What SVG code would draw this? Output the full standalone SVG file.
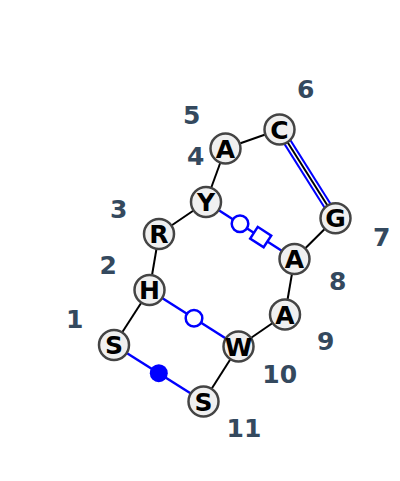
<svg xmlns="http://www.w3.org/2000/svg" width="400" height="481" viewBox="0 0 400 481">
<style>
.bb{stroke:#000;stroke-width:2;fill:none}
.bl{stroke:#0000ff;stroke-width:2.5;fill:none}
.oc{fill:#fff;stroke:#0000ff;stroke-width:2.5}
.fc{fill:#0000ff;stroke:none}
.nd circle{fill:#f0f0f0;stroke:#444;stroke-width:2.5}
.nd text{font-family:"DejaVu Sans",sans-serif;font-weight:bold;font-size:25px;fill:#000;text-anchor:middle}
.lb{font-family:"DejaVu Sans",sans-serif;font-weight:bold;font-size:25px;fill:#34495e;text-anchor:middle}
</style>
<rect width="400" height="481" fill="#fff"/>
<g id="connectors">
<line class="bb" x1="114" y1="345" x2="149.5" y2="290"/>
<line class="bb" x1="149.5" y1="290" x2="159" y2="234"/>
<line class="bb" x1="159" y1="234" x2="206" y2="202"/>
<line class="bb" x1="206" y1="202" x2="225.5" y2="148.5"/>
<line class="bb" x1="225.5" y1="148.5" x2="279.5" y2="129.5"/>
<line x1="279.5" y1="129.5" x2="335.5" y2="218.3" stroke="#0000ff" stroke-width="9"/>
<line x1="279.5" y1="129.5" x2="335.5" y2="218.3" stroke="#fff" stroke-width="5"/>
<line x1="279.5" y1="129.5" x2="335.5" y2="218.3" stroke="#000" stroke-width="2"/>
<line class="bb" x1="335.5" y1="218.3" x2="294.5" y2="259"/>
<line class="bb" x1="294.5" y1="259" x2="285" y2="314.5"/>
<line class="bb" x1="285" y1="314.5" x2="238.5" y2="346.5"/>
<line class="bb" x1="238.5" y1="346.5" x2="203.5" y2="401.5"/>
<line class="bl" x1="206" y1="202" x2="294.5" y2="259"/>
<circle class="oc" cx="240" cy="223.8" r="8.3"/>
<rect class="oc" x="-8" y="-7" width="16" height="14" transform="translate(260.7,237.1) rotate(32.8)"/>
<line class="bl" x1="149.5" y1="290" x2="238.5" y2="346.5"/>
<circle class="oc" cx="194" cy="318.3" r="8.3"/>
<line class="bl" x1="114" y1="345" x2="203.5" y2="401.5"/>
<circle class="fc" cx="158.8" cy="373.2" r="9"/>
</g>
<g id="n1" class="nd"><circle cx="114" cy="345" r="15"/><text x="114" y="354">S</text></g>
<g id="n2" class="nd"><circle cx="149.5" cy="290" r="15"/><text x="149.5" y="299">H</text></g>
<g id="n3" class="nd"><circle cx="159" cy="234" r="15"/><text x="159" y="243">R</text></g>
<g id="n4" class="nd"><circle cx="206" cy="202" r="15"/><text x="206" y="211">Y</text></g>
<g id="n5" class="nd"><circle cx="225.5" cy="148.5" r="15"/><text x="225.5" y="157.5">A</text></g>
<g id="n6" class="nd"><circle cx="279.5" cy="129.5" r="15"/><text x="279.5" y="138.5">C</text></g>
<g id="n7" class="nd"><circle cx="335.5" cy="218.3" r="15"/><text x="335.5" y="227.3">G</text></g>
<g id="n8" class="nd"><circle cx="294.5" cy="259" r="15"/><text x="294.5" y="268">A</text></g>
<g id="n9" class="nd"><circle cx="285" cy="314.5" r="15"/><text x="285" y="323.5">A</text></g>
<g id="n10" class="nd"><circle cx="238.5" cy="346.5" r="15"/><text x="238.5" y="355.5">W</text></g>
<g id="n11" class="nd"><circle cx="203.5" cy="401.5" r="15"/><text x="203.5" y="410.5">S</text></g>
<g id="labels">
<text class="lb" x="74.7" y="327.8">1</text>
<text class="lb" x="108.3" y="274.1">2</text>
<text class="lb" x="118.7" y="218.4">3</text>
<text class="lb" x="195.7" y="165.1">4</text>
<text class="lb" x="191.7" y="124.1">5</text>
<text class="lb" x="305.7" y="98.4">6</text>
<text class="lb" x="381.7" y="245.8">7</text>
<text class="lb" x="337.7" y="289.8">8</text>
<text class="lb" x="325.7" y="349.8">9</text>
<text class="lb" x="279.7" y="382.8">10</text>
<text class="lb" x="244" y="437.4">11</text>
</g>
</svg>
